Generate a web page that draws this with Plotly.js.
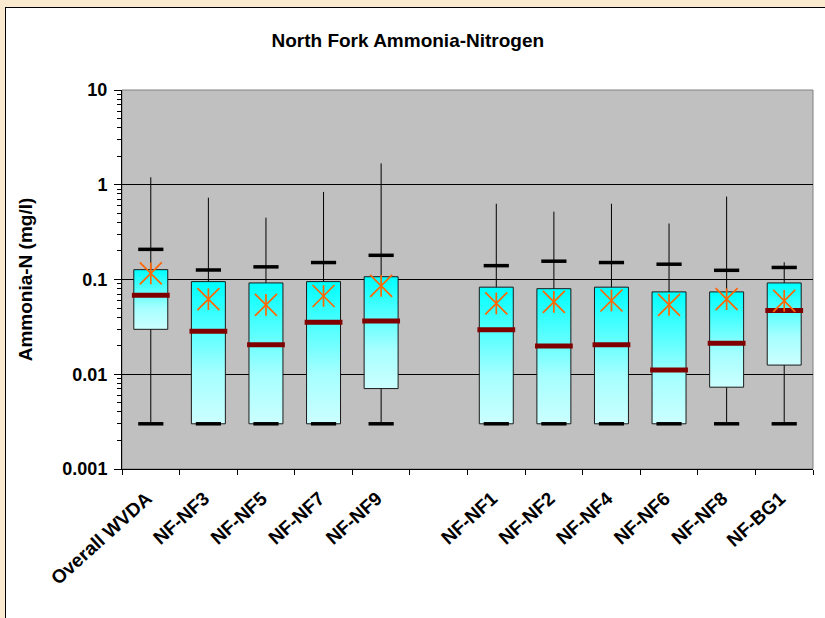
<!DOCTYPE html>
<html><head><meta charset="utf-8">
<script src="https://cdn.plot.ly/plotly-3.0.1.min.js"></script>
<style>
html,body{margin:0;padding:0;background:#FAEBD0;width:825px;height:618px;overflow:hidden}
#frame{position:absolute;left:5px;top:7px;width:820px;height:611px;border-left:1px solid #000;border-top:1px solid #000;background:#fff}
#chart{width:820px;height:611px}
</style></head><body><div id="frame"><div id="chart"></div></div>
<script>
const categories = ['Overall WVDA','NF-NF3','NF-NF5','NF-NF7','NF-NF9',' ','NF-NF1','NF-NF2','NF-NF4','NF-NF6','NF-NF8','NF-BG1'];
const sites = ['Overall WVDA','NF-NF3','NF-NF5','NF-NF7','NF-NF9','NF-NF1','NF-NF2','NF-NF4','NF-NF6','NF-NF8','NF-BG1'];
const maxVals    = [1.2,   0.73,  0.45,  0.84,  1.68,   0.63,  0.52,  0.63,  0.39,  0.75,  0.152];
const p90Vals    = [0.208, 0.126, 0.136, 0.151, 0.180,  0.140, 0.156, 0.151, 0.145, 0.125, 0.134];
const q3Vals     = [0.127, 0.095, 0.092, 0.095, 0.107,  0.083, 0.080, 0.083, 0.074, 0.074, 0.092];
const medianVals = [0.068, 0.0284,0.0205,0.0353,0.0364, 0.0295,0.0199,0.0205,0.0111,0.0212,0.0471];
const meanVals   = [0.116, 0.062, 0.054, 0.067, 0.0857, 0.0559,0.058, 0.060, 0.054, 0.062, 0.0596];
const q1Vals     = [0.0298,0.003, 0.003, 0.003, 0.00706,0.003, 0.003, 0.003, 0.003, 0.0073,0.0125];
const p10Vals    = [0.003, 0.003, 0.003, 0.003, 0.003,  0.003, 0.003, 0.003, 0.003, 0.003, 0.003];
const minVals    = [0.003, 0.003, 0.003, 0.003, 0.003,  0.003, 0.003, 0.003, 0.003, 0.003, 0.003];
const yTickVals = [0.001, 0.01, 0.1, 1, 10];
const yTickText = ['0.001', '0.01', '0.1', '1', '10'];

const pos = sites.map(s => categories.indexOf(s));
const traces = [];
// category axis carrier (invisible) so every slot, including the empty one, gets a label
traces.push({x:categories, y:categories.map(()=>0.003), mode:'markers', marker:{opacity:0}, hoverinfo:'skip', showlegend:false});

// whiskers min -> max
const wx = [], wy = [];
sites.forEach((s,i)=>{ wx.push(pos[i],pos[i],pos[i]); wy.push(minVals[i], maxVals[i], null); });
traces.push({x:wx, y:wy, xaxis:'x2', mode:'lines', line:{color:'#000', width:1}, hoverinfo:'skip', showlegend:false});

// boxes with gradient fill
const half = 0.295;
sites.forEach((s,i)=>{
  const c = pos[i];
  traces.push({
    x:[c-half, c+half, c+half, c-half, c-half],
    y:[q1Vals[i], q1Vals[i], q3Vals[i], q3Vals[i], q1Vals[i]],
    xaxis:'x2', mode:'lines', fill:'toself',
    fillgradient:{type:'vertical', colorscale:[[0,'#CCFFFF'],[0.35,'#A6FFFF'],[1,'#00FFFF']]},
    line:{color:'#1a1a1a', width:1}, hoverinfo:'skip', showlegend:false
  });
});

// 10th / 90th percentile caps
const cx = [], cy = [];
sites.forEach((s,i)=>{ cx.push(pos[i], pos[i]); cy.push(p90Vals[i], p10Vals[i]); });
traces.push({x:cx, y:cy, xaxis:'x2', mode:'markers', marker:{symbol:'line-ew', size:18, color:'#000', line:{color:'#000', width:3.5}}, hoverinfo:'skip', showlegend:false});

// medians
traces.push({x:pos, y:medianVals, xaxis:'x2', mode:'markers', marker:{symbol:'line-ew', size:27, color:'#800000', line:{color:'#800000', width:5}}, hoverinfo:'skip', showlegend:false});

// means (asterisk made of an x and a vertical stroke)
traces.push({x:pos, y:meanVals, xaxis:'x2', mode:'markers', marker:{symbol:'x-thin-open', size:22, color:'#FF6600', line:{color:'#FF6600', width:1.7}}, hoverinfo:'skip', showlegend:false});
traces.push({x:pos, y:meanVals, xaxis:'x2', mode:'markers', marker:{symbol:'line-ns-open', size:15.5, color:'#FF6600', line:{color:'#FF6600', width:1.7}}, hoverinfo:'skip', showlegend:false});

const minorTicks = [];
for (let e=-3; e<1; e++) for (let m=2; m<10; m++) minorTicks.push(m*Math.pow(10,e));

const font = 'Liberation Sans, Arial, sans-serif';
const layout = {
  width:820, height:611,
  margin:{l:116, r:13, t:82, b:150},
  paper_bgcolor:'#FFFFFF', plot_bgcolor:'#C0C0C0',
  showlegend:false,
  font:{family:font, color:'#000'},
  title:{text:'<b>North Fork Ammonia-Nitrogen</b>', font:{family:font, size:19, color:'#000'}, x:0.49, xanchor:'center', y:1-32/611, yref:'container', yanchor:'middle'},
  xaxis:{type:'category', categoryorder:'array', categoryarray:categories, range:[-0.5, 11.5],
    tickson:'boundaries', ticks:'outside', ticklen:5, tickcolor:'#000', tickwidth:1,
    showline:true, linecolor:'#000', linewidth:1, showgrid:false, zeroline:false,
    ticklabelstandoff:10, ticklabelshift:-4,
    tickangle:-42, tickfont:{family:font, size:19, color:'#000', weight:'bold'}},
  xaxis2:{overlaying:'x', range:[-0.5, 11.5], visible:false, anchor:'y'},
  yaxis:{type:'log', range:[-3, 1], tickmode:'array', tickvals:yTickVals, ticktext:yTickText,
    ticks:'outside', ticklen:7, tickcolor:'#000', showline:true, linecolor:'#000', linewidth:1,
    showgrid:true, gridcolor:'#000', gridwidth:1, zeroline:false, ticklabelstandoff:3,
    tickfont:{family:font, size:18, color:'#000', weight:'bold'},
    minor:{tickmode:'array', tickvals:minorTicks, ticks:'outside', ticklen:4, tickcolor:'#000', showgrid:false},
    title:{text:'<b>Ammonia-N (mg/l)</b>', font:{family:font, size:19, color:'#000'}, standoff:24}},
  shapes:[{type:'rect', xref:'paper', yref:'paper', x0:0, x1:1, y0:0, y1:1, line:{color:'#808080', width:1}, fillcolor:'rgba(0,0,0,0)', layer:'below'}]
};
Plotly.newPlot('chart', traces, layout, {displayModeBar:false, staticPlot:true});
</script></body></html>
